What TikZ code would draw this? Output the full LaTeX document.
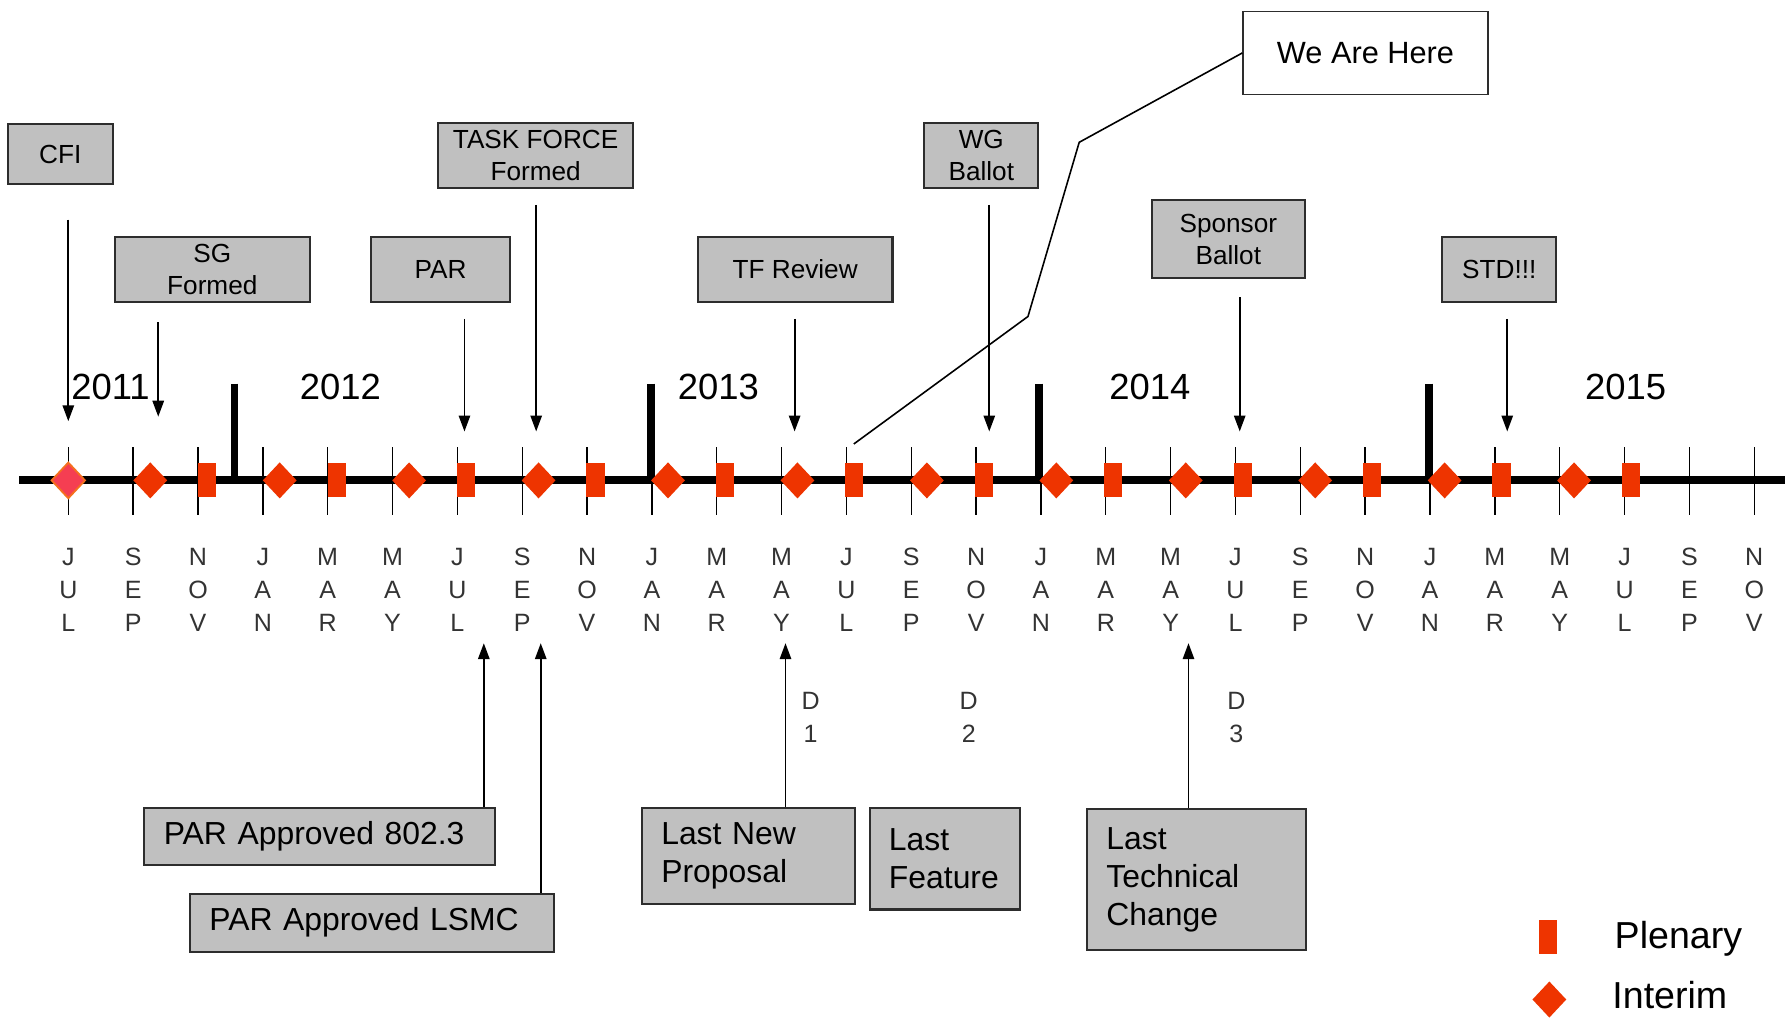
\documentclass[tikz,border=0pt]{standalone}
\usepackage{fontspec}
\setmainfont{Liberation Sans}
\usetikzlibrary{shapes.geometric,arrows.meta}
\definecolor{meetred}{RGB}{238,52,0}
\definecolor{boxgray}{RGB}{192,192,192}
\definecolor{boxline}{RGB}{45,45,45}
\definecolor{firstpink}{RGB}{245,62,82}
\definecolor{firstedge}{RGB}{245,112,30}
\tikzset{
    evt-box/.style = {draw=boxline, fill=boxgray, line width=0.9pt, inner sep=0pt, align=center, font=\fontsize{11.5}{14}\selectfont},
    note-box/.style 2 args = {draw=boxline, fill=boxgray, line width=0.9pt, inner xsep=8.5pt, inner ysep=0pt, anchor=north west, align=left, text width=#1, minimum height=#2, font=\fontsize{14}{16.5}\selectfont},
    evt-arrow/.style = {line width=0.8pt, -{Triangle[width=5pt,length=7pt]}},
    plenary/.style = {fill=meetred, inner sep=0pt, minimum width=8pt, minimum height=15pt},
    interim/.style = {diamond, fill=meetred, inner sep=0pt, minimum width=15pt, minimum height=16pt},
    month/.style = {text=black!80, inner sep=0pt, align=center, font=\fontsize{11}{14.5}\selectfont},
    year/.style = {inner sep=0pt, font=\fontsize{16}{18}\selectfont},
    legend-text/.style = {inner sep=0pt, anchor=west, font=\fontsize{16.5}{18}\selectfont},
}

\begin{document}
\begin{tikzpicture}[x=0.5pt, y=-0.5pt]
\useasboundingbox (0,0) rectangle (1568,895);

% month ticks and labels
\foreach \a/\b/\c [count=\i from 0] in {J/U/L, S/E/P, N/O/V, J/A/N, M/A/R, M/A/Y, J/U/L, S/E/P, N/O/V,
    J/A/N, M/A/R, M/A/Y, J/U/L, S/E/P, N/O/V, J/A/N, M/A/R, M/A/Y, J/U/L, S/E/P, N/O/V,
    J/A/N, M/A/R, M/A/Y, J/U/L, S/E/P, N/O/V} {
    \draw[line width=0.6pt] ({60+56.96*\i},393) -- ++(0,59);
    \node[month] (mon\i) at ({60+56.96*\i},518) {\a\\\b\\\c};
}

% timeline and year bars
\draw[line width=3.5pt] (17,422) -- (1568,422);
\foreach \x in {206,572,913,1255}
    \draw[line width=3.5pt] (\x,337) -- (\x,422);

\node[year] (y2011) at (97,340) {2011};
\node[year] (y2012) at (299,340) {2012};
\node[year] (y2013) at (631,340) {2013};
\node[year] (y2014) at (1010,340) {2014};
\node[year] (y2015) at (1428,340) {2015};

% meetings
\node[interim, fill=firstpink, draw=firstedge, line width=0.8pt] (int-first) at (60,422) {};
\foreach \k in {0,...,11} {
    \node[interim] (int\k) at ({132+113.7*\k},422) {};
    \node[plenary] (plen\k) at ({182+113.7*\k},422) {};
}

% milestones above
\node[evt-box, minimum width=46pt, minimum height=26.5pt] (cfi) at (53,135.5) {CFI};
\node[evt-box, minimum width=85.5pt, minimum height=28.5pt] (sg) at (186.5,236.5) {SG\\Formed};
\node[evt-box, minimum width=61pt, minimum height=28.5pt] (par) at (387,236.5) {PAR};
\node[evt-box, minimum width=85.5pt, minimum height=28.5pt] (tf) at (470.5,136.5) {TASK FORCE\\Formed};
\node[evt-box, minimum width=85.5pt, minimum height=28.5pt] (tfr) at (698.5,236.5) {TF Review};
\node[evt-box, minimum width=50pt, minimum height=28.5pt] (wg) at (862,136.5) {WG\\Ballot};
\node[evt-box, minimum width=67pt, minimum height=34pt] (sponsor) at (1079,210) {Sponsor\\Ballot};
\node[evt-box, minimum width=50pt, minimum height=28.5pt] (std) at (1317,236.5) {STD!!!};

\coordinate (cfi-a) at (60,193);      \coordinate (cfi-b) at (60,370);
\coordinate (sg-a) at (139,283);      \coordinate (sg-b) at (139,366);
\coordinate (par-a) at (408,280);     \coordinate (par-b) at (408,379);
\coordinate (tf-a) at (471,180);      \coordinate (tf-b) at (471,379);
\coordinate (tfr-a) at (698,280);     \coordinate (tfr-b) at (698,379);
\coordinate (wg-a) at (869,180);      \coordinate (wg-b) at (869,379);
\coordinate (sponsor-a) at (1089,261); \coordinate (sponsor-b) at (1089,379);
\coordinate (std-a) at (1324,280);    \coordinate (std-b) at (1324,379);
\foreach \n in {cfi,sg,par,tf,tfr,wg,sponsor,std}
    \draw[evt-arrow] (\n-a) -- (\n-b);

% we are here
\node[evt-box, fill=white, line width=0.7pt, minimum width=107.5pt, minimum height=36.5pt, font=\fontsize{13.5}{16}\selectfont] (here) at (1199.5,46.5) {We Are Here};
\coordinate (here-a) at (948,125);
\coordinate (here-b) at (903,278);
\coordinate (here-c) at (750,390);
\draw[line width=0.7pt] (here.west) -- (here-a) -- (here-b) -- (here-c);

% milestones below
\node[note-box={137pt}{25pt}] (par802) at (126,709) {PAR Approved 802.3};
\node[note-box={143pt}{25.5pt}] (parlsmc) at (166,784) {PAR Approved LSMC};
\node[note-box={76.5pt}{42pt}] (lastnew) at (563,709) {Last New\\Proposal};
\node[note-box={49pt}{44.5pt}] (lastfeat) at (763,709) {Last\\Feature};
\node[note-box={79pt}{62pt}] (lasttech) at (954,710) {Last\\Technical\\Change};

\coordinate (par802-tip) at (425,565);
\coordinate (parlsmc-tip) at (475,565);
\coordinate (lastnew-tip) at (690,565);
\coordinate (lasttech-tip) at (1044,565);
\foreach \n in {par802,parlsmc,lastnew,lasttech}
    \draw[evt-arrow] (\n.north -| \n-tip) -- (\n-tip);

% drafts
\node[month] (d1) at (712,630) {D\\1};
\node[month] (d2) at (851,630) {D\\2};
\node[month] (d3) at (1086,630) {D\\3};

% legend
\node[plenary] (leg-plen) at (1360,823) {};
\node[interim] (leg-int) at (1361,878) {};
\node[legend-text] (leg-plen-txt) at (1418,825) {Plenary};
\node[legend-text] (leg-int-txt) at (1416,874) {Interim};
\end{tikzpicture}
\end{document}
